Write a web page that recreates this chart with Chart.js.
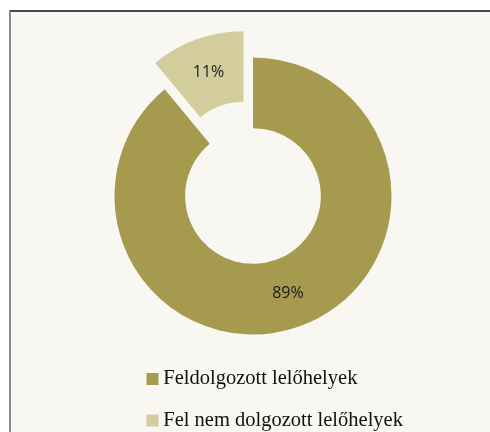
<!DOCTYPE html>
<html>
<head>
<meta charset="utf-8">
<script src="https://cdn.jsdelivr.net/npm/chart.js@4.4.1/dist/chart.umd.min.js"></script>
<style>
  html, body { margin: 0; padding: 0; background: #ffffff; width: 490px; height: 432px; overflow: hidden; position: relative; }
  #frame { position: absolute; left: 9px; top: 10px; width: 481px; height: 422px; background: #f8f7f2;
           border-top: 2px solid #4a4a4a; border-left: 2px solid #8c8c8c; box-sizing: border-box; }
  #c { position: absolute; left: 0; top: 0; }
</style>
</head>
<body>
<div id="frame"></div>
<canvas id="c" width="490" height="450"></canvas>
<script>
const categories = ['Feldolgozott lelőhelyek', 'Fel nem dolgozott lelőhelyek'];
const values = [89, 11];
const valueLabels = ['89%', '11%'];

const explodePlugin = {
  id: 'explode',
  afterDatasetUpdate(chart, args, opts) {
    const d = opts.distances || [];
    args.meta.data.forEach((arc, i) => {
      const dist = d[i] || 0;
      if (!dist || arc._exploded) return;
      const orig = arc.draw.bind(arc);
      arc.draw = function(ctx, area) {
        const a = (this.startAngle + this.endAngle) / 2;
        ctx.save();
        ctx.translate(Math.cos(a) * dist, Math.sin(a) * dist);
        orig(ctx, area);
        ctx.restore();
      };
      arc._exploded = true;
    });
  }
};

const labelPlugin = {
  id: 'sliceLabels',
  afterDatasetsDraw(chart, args, opts) {
    const ctx = chart.ctx;
    const meta = chart.getDatasetMeta(0);
    const d = (chart.options.plugins.explode || {}).distances || [];
    ctx.save();
    ctx.font = opts.font;
    ctx.fillStyle = opts.color;
    ctx.textAlign = 'center';
    ctx.textBaseline = 'middle';
    meta.data.forEach((arc, i) => {
      const a = (arc.startAngle + arc.endAngle) / 2;
      const r = (arc.innerRadius + arc.outerRadius) / 2 + (d[i] || 0);
      ctx.fillText(valueLabels[i], arc.x + Math.cos(a) * r, arc.y + Math.sin(a) * r);
    });
    ctx.restore();
  }
};

new Chart(document.getElementById('c'), {
  type: 'doughnut',
  data: {
    labels: categories,
    datasets: [{
      data: values,
      backgroundColor: ['#a59a4e', '#d3cc9d'],
      borderWidth: 0
    }]
  },
  options: {
    responsive: false,
    animation: false,
    devicePixelRatio: 1,
    radius: 138.5,
    cutout: '49%',
    layout: { padding: { left: 130.9, right: 0, top: 44.35, bottom: 9.15 } },
    plugins: {
      tooltip: { enabled: false },
      explode: { distances: [0, 28] },
      sliceLabels: { font: '16px "Open Sans"', color: '#1b1b1b' },
      title: {
        display: true,
        text: '',
        position: 'right',
        fullSize: false,
        font: { size: 10, lineHeight: 1.2 },
        padding: { top: 51.45, bottom: 51.45 }
      },
      legend: {
        position: 'bottom',
        align: 'start',
        labels: {
          usePointStyle: true,
          pointStyle: 'rect',
          boxWidth: 1,
          boxHeight: 12,
          padding: 21.1,
          color: '#111111',
          font: { family: '"Liberation Serif", "Times New Roman", serif', size: 20.5 }
        }
      }
    }
  },
  plugins: [explodePlugin, labelPlugin]
});
</script>
</body>
</html>
